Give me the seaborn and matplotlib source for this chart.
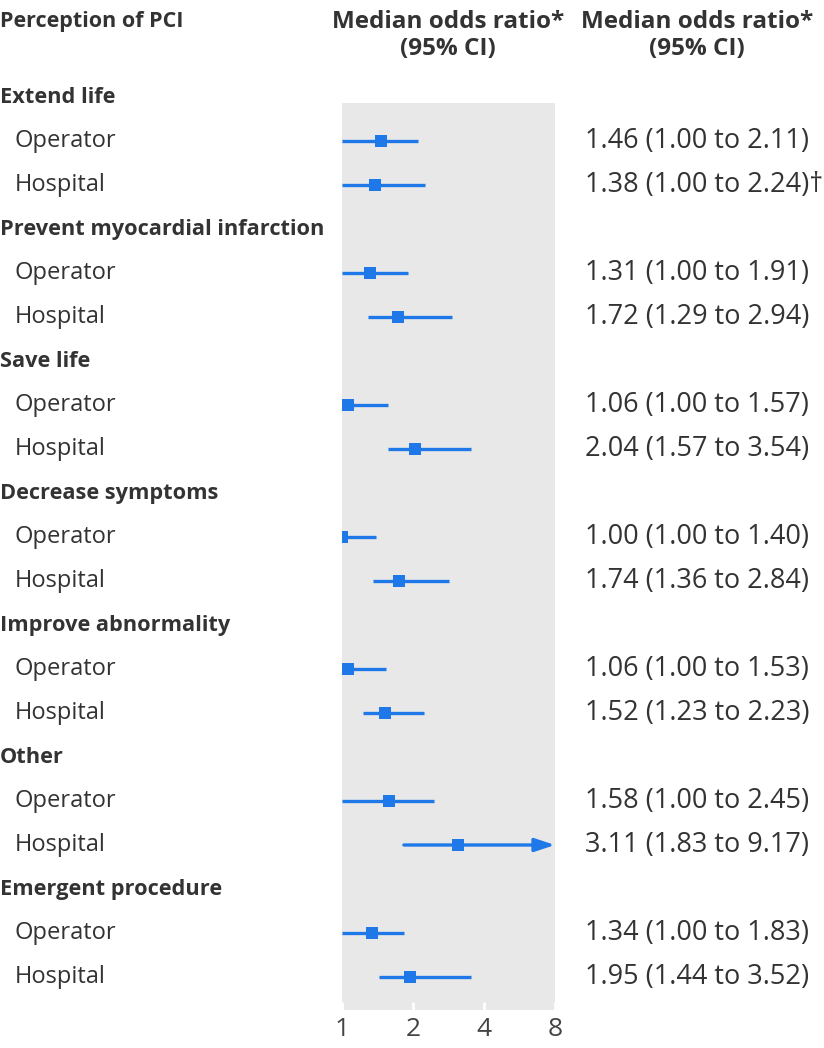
import numpy as np
import pandas as pd
import seaborn as sns
import matplotlib.pyplot as plt
import matplotlib.transforms as mtransforms

# perception groups and the two levels shown for each
groups = ["Extend life", "Prevent myocardial infarction", "Save life",
          "Decrease symptoms", "Improve abnormality", "Other", "Emergent procedure"]
levels = ["Operator", "Hospital"]

op_med = [1.46, 1.31, 1.06, 1.00, 1.06, 1.58, 1.34]
op_lo = [1.00, 1.00, 1.00, 1.00, 1.00, 1.00, 1.00]
op_hi = [2.11, 1.91, 1.57, 1.40, 1.53, 2.45, 1.83]

hosp_med = [1.38, 1.72, 2.04, 1.74, 1.52, 3.11, 1.95]
hosp_lo = [1.00, 1.29, 1.57, 1.36, 1.23, 1.83, 1.44]
hosp_hi = [2.24, 2.94, 3.54, 2.84, 2.23, 9.17, 3.52]
hosp_note = ["†", "", "", "", "", "", ""]

x_ticks = [1, 2, 4, 8]

BLUE = "#1f78e8"
GREY_BG = "#e8e8e8"
TXT = "#333333"

sns.set_theme(style="white")
plt.rcParams["font.family"] = ["Open Sans", "DejaVu Sans"]

# build one long table, one row per line of the plot
rows = []
r = 0
for i, g in enumerate(groups):
    rows.append(dict(row=r, label=g, kind="group"))
    r += 1
    for lev, med, lo, hi, note in [(levels[0], op_med[i], op_lo[i], op_hi[i], ""),
                                   (levels[1], hosp_med[i], hosp_lo[i], hosp_hi[i], hosp_note[i])]:
        rows.append(dict(row=r, label=lev, kind="level", med=med, lo=lo, hi=hi, note=note))
        r += 1
df = pd.DataFrame(rows)
est = df[df.kind == "level"]

W, H = 824, 1048
fig = plt.figure(figsize=(W / 100, H / 100), dpi=100)
# axes covers the grey panel
ax = fig.add_axes([342 / W, 1 - 1010 / H, (555 - 342) / W, (1010 - 103) / H])
ax.set_facecolor(GREY_BG)
ax.set_xscale("log", base=2)
for s in ax.spines.values():
    s.set_visible(False)

xmax = x_ticks[-1]
for _, e in est.iterrows():
    if e.hi > xmax:
        ax.annotate("", xy=(xmax, e.row), xytext=(e.lo, e.row),
                    arrowprops=dict(arrowstyle="-|>,head_length=1.0,head_width=0.33",
                                    color=BLUE, lw=2.4, shrinkA=0, shrinkB=0),
                    annotation_clip=False)
    else:
        ax.hlines(e.row, e.lo, e.hi, color=BLUE, lw=2.4)

sns.scatterplot(data=est, x="med", y="row", marker="s", s=85, color=BLUE,
                edgecolor=BLUE, linewidth=0, ax=ax, zorder=3, legend=False)
ax.set_xlim(1, 8)
ax.set_ylim(20.75, 0.136)

ax.set_xticks(x_ticks)
ax.set_xticklabels([str(t) for t in x_ticks])
ax.minorticks_off()
ax.tick_params(axis="x", direction="in", length=6, width=2, color="white",
               labelsize=19, labelcolor="#444444", pad=5, bottom=True)
ax.set_yticks([])
ax.set_xlabel("")
ax.set_ylabel("")

ftrans = mtransforms.blended_transform_factory(fig.transFigure, ax.transData)

for _, e in df.iterrows():
    if e.kind == "group":
        fig.text(0 / W, e.row, e.label, transform=ftrans, ha="left", va="center",
                 fontsize=15.7, fontweight="bold", color=TXT)
    else:
        fig.text(15 / W, e.row, e.label, transform=ftrans, ha="left", va="center",
                 fontsize=17, color=TXT)
        fig.text(585 / W, e.row, f"{e.med:.2f} ({e.lo:.2f} to {e.hi:.2f}){e.note}",
                 transform=ftrans, ha="left", va="center", fontsize=19.5, color=TXT)

# column headers
fig.text(0, 1 - 22 / H, "Perception of PCI", ha="left", va="center",
         fontsize=15.5, fontweight="bold", color=TXT)
for cx in (448, 697):
    fig.text(cx / W, 1 - 22 / H, "Median odds ratio*", ha="center", va="center",
             fontsize=17.5, fontweight="bold", color=TXT)
    fig.text(cx / W, 1 - 49 / H, "(95% CI)", ha="center", va="center",
             fontsize=17.5, fontweight="bold", color=TXT)

fig.savefig("out.png", dpi=100, facecolor="white")
